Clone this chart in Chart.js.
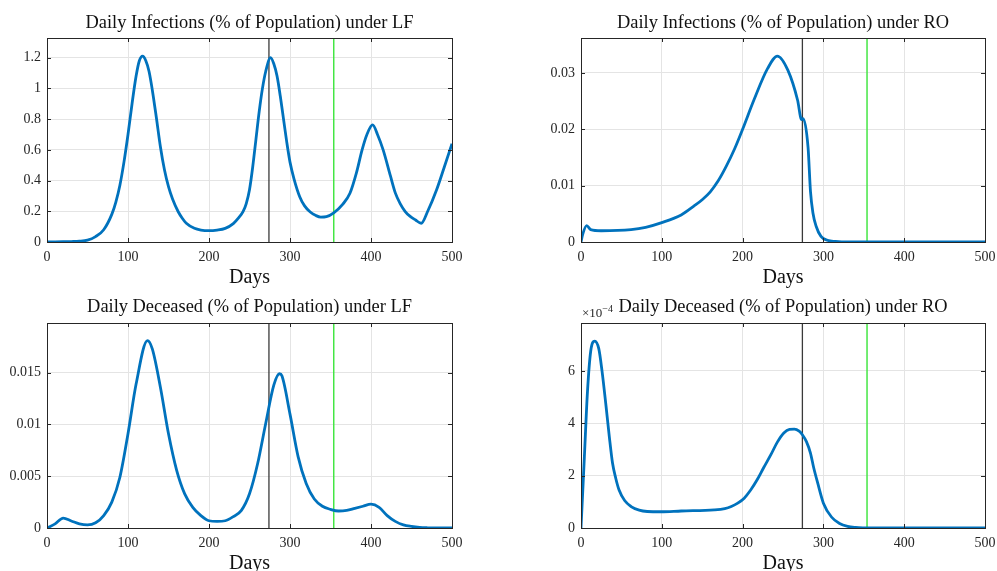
<!DOCTYPE html>
<html>
<head>
<meta charset="utf-8">
<script src="https://cdn.jsdelivr.net/npm/chart.js@4/dist/chart.umd.min.js"></script>
<style>
  html, body { margin: 0; padding: 0; background: #fff; overflow: hidden; }
  body { width: 997px; height: 571px; position: relative; }
  canvas { position: absolute; }
</style>
</head>
<body>
<canvas id="infLF" width="499" height="290" style="left:0;top:0"></canvas>
<canvas id="infRO" width="526" height="290" style="left:520px;top:0"></canvas>
<canvas id="decLF" width="499" height="300" style="left:0;top:290px"></canvas>
<canvas id="decRO" width="526" height="300" style="left:520px;top:290px"></canvas>
<script>
// day markers
const lockdownEnd = 274;
const vaccineDay = 354;

// daily infections, laissez-faire
const infLFDays = [0, 10, 20, 30, 40, 50, 60, 70, 80, 85, 90, 95, 100, 105, 110, 114, 118, 122, 126, 130,
  135, 140, 145, 150, 155, 162, 167, 172, 182, 190, 200, 210, 220, 230, 237, 242, 246, 250, 254, 258,
  262, 266, 270, 276, 280, 284, 288, 292, 296, 300, 305, 312, 318, 325, 332, 338, 345, 354, 365, 374,
  382, 389, 395, 402, 408, 415, 424, 430, 436, 442, 448, 455, 462, 470, 481, 490, 500];
const infLF = [0, 0.001, 0.002, 0.003, 0.005, 0.012, 0.035, 0.08, 0.18, 0.26, 0.37, 0.52, 0.7, 0.9, 1.08, 1.18, 1.21, 1.18, 1.11, 0.99,
  0.81, 0.62, 0.47, 0.36, 0.28, 0.197, 0.155, 0.122, 0.089, 0.078, 0.074, 0.078, 0.089, 0.12, 0.16, 0.197, 0.25, 0.34, 0.49, 0.67,
  0.85, 1.0, 1.11, 1.2, 1.16, 1.08, 0.95, 0.8, 0.65, 0.52, 0.41, 0.295, 0.235, 0.195, 0.172, 0.162, 0.165, 0.19, 0.245, 0.317,
  0.45, 0.6, 0.7, 0.762, 0.7, 0.6, 0.43, 0.32, 0.25, 0.2, 0.168, 0.143, 0.122, 0.2, 0.34, 0.48, 0.64];

// daily infections, optimal policy
const infRODays = [0, 2, 7, 12, 25, 62, 80, 99, 124, 140, 150, 160, 170, 180, 190, 200, 214, 231, 243, 256,
  268, 273, 275, 281, 284, 287, 291, 297, 305, 315, 330, 400, 500];
const infRO = [0, 0.0013, 0.0029, 0.0022, 0.002, 0.0022, 0.0026, 0.0034, 0.0048, 0.0064, 0.0075, 0.0089, 0.0109, 0.0135, 0.0165, 0.02, 0.0252, 0.0308, 0.033, 0.0305,
  0.0252, 0.0217, 0.0219, 0.0168, 0.009, 0.0052, 0.0028, 0.001, 0.0003, 0.0001, 0, 0, 0];

// daily deceased, laissez-faire
const decLFDays = [0, 10, 20, 30, 40, 50, 60, 70, 80, 90, 100, 110, 124, 130, 140, 150, 160, 170, 180, 190,
  200, 210, 220, 230, 240, 250, 260, 270, 280, 287, 290, 300, 310, 320, 330, 340, 350, 360, 370, 380,
  390, 400, 410, 420, 430, 440, 450, 460, 470, 480, 500];
const decLF = [0, 0.0004, 0.00095, 0.00068, 0.0004, 0.0003, 0.0005, 0.0012, 0.0025, 0.0049, 0.0091, 0.0139, 0.0181, 0.0173, 0.0136, 0.0091, 0.0056, 0.0033, 0.002, 0.0012,
  0.0007, 0.00064, 0.0007, 0.0011, 0.0017, 0.0033, 0.0062, 0.0101, 0.0138, 0.0149, 0.0147, 0.011, 0.0069, 0.0043, 0.0028, 0.0021, 0.0018, 0.00164, 0.0017, 0.0019,
  0.0021, 0.0023, 0.002, 0.0012, 0.00064, 0.0003, 0.00015, 0.00006, 0.00002, 0, 0];

// daily deceased, optimal policy (units of 1e-4)
const decRODays = [0, 4, 8, 12, 17, 22, 26, 31, 35, 39, 43, 47, 54, 62, 72, 82, 99, 124, 165, 178,
  186, 194, 202, 210, 218, 226, 235, 243, 251, 258, 264, 270, 274, 279, 284, 288, 293, 300, 310, 320,
  330, 340, 350, 360, 500];
const decRO = [0, 2.6, 5.2, 6.75, 7.14, 6.85, 6.0, 4.65, 3.5, 2.48, 1.9, 1.46, 1.05, 0.82, 0.68, 0.63, 0.62, 0.65, 0.69, 0.74,
  0.82, 0.95, 1.14, 1.45, 1.84, 2.3, 2.8, 3.28, 3.63, 3.77, 3.78, 3.7, 3.56, 3.3, 2.86, 2.3, 1.71, 0.95, 0.42, 0.17,
  0.06, 0.02, 0.005, 0, 0];

const serif = '"Liberation Serif", "Times New Roman", serif';
const axisColor = '#262626';
const titleSize = 18.4;
const daysSize = 20;

const toPoints = (days, vals) => days.map((d, i) => ({x: d, y: vals[i]}));

// MATLAB-like closed box with inward ticks
const boxPlugin = {
  id: 'box',
  afterDraw(chart) {
    const {ctx, chartArea: a, scales} = chart;
    ctx.save();
    ctx.strokeStyle = axisColor;
    ctx.lineWidth = 1;
    ctx.strokeRect(Math.round(a.left) + 0.5, Math.round(a.top) + 0.5,
      Math.round(a.right - a.left), Math.round(a.bottom - a.top));
    ctx.beginPath();
    scales.x.ticks.forEach(t => {
      const px = Math.round(scales.x.getPixelForValue(t.value)) + 0.5;
      ctx.moveTo(px, a.bottom); ctx.lineTo(px, a.bottom - 4);
      ctx.moveTo(px, a.top); ctx.lineTo(px, a.top + 4);
    });
    scales.y.ticks.forEach(t => {
      const py = Math.round(scales.y.getPixelForValue(t.value)) + 0.5;
      ctx.moveTo(a.left, py); ctx.lineTo(a.left + 4, py);
      ctx.moveTo(a.right, py); ctx.lineTo(a.right - 4, py);
    });
    ctx.stroke();
    const exp = chart.options.plugins.box && chart.options.plugins.box.exponent;
    if (exp) {
      ctx.fillStyle = axisColor;
      ctx.textBaseline = 'alphabetic';
      ctx.textAlign = 'left';
      ctx.font = '13px ' + serif;
      const base = a.top - 6;
      ctx.fillText('\u00d710', a.left + 1, base);
      const w = ctx.measureText('\u00d710').width;
      ctx.font = '10px ' + serif;
      ctx.fillText('\u2212' + exp, a.left + 1 + w, base - 5);
    }
    ctx.restore();
  }
};

function renderPanel(id, cfg) {
  const canvas = document.getElementById(id);
  const W = canvas.width, H = canvas.height;
  const markerLine = (day, color, width) => ({
    data: [{x: day, y: 0}, {x: day, y: cfg.yMax}],
    borderColor: color,
    borderWidth: width,
    pointRadius: 0,
    tension: 0,
  });

  new Chart(canvas, {
    type: 'line',
    data: {
      datasets: [
        {
          data: toPoints(cfg.days, cfg.values),
          borderColor: '#0072BD',
          borderWidth: 2.8,
          pointRadius: 0,
          cubicInterpolationMode: 'monotone',
        },
        markerLine(lockdownEnd, '#3a3a3a', 1.3),
        markerLine(vaccineDay, '#44e644', 1.5),
      ]
    },
    options: {
      responsive: false,
      animation: false,
      layout: {padding: {left: 0, right: W - cfg.right, top: 0, bottom: 0}},
      plugins: {
        legend: {display: false},
        tooltip: {enabled: false},
        box: {exponent: cfg.exponent},
      },
      scales: {
        x: {
          type: 'linear',
          min: 0,
          max: 500,
          ticks: {stepSize: 100, color: axisColor, padding: 7, maxRotation: 0,
            font: {family: serif, size: 14}},
          grid: {color: '#e4e4e4', drawTicks: false},
          border: {display: false},
          title: {display: true, text: 'Days', color: '#111',
            font: {family: serif, size: daysSize, lineHeight: 1},
            padding: {top: 0, bottom: cfg.daysFromBottom - daysSize / 2}},
          afterFit(scale) { scale.height = H - cfg.bottom; },
        },
        // top axis only carries the panel title, centred over the plot box
        top: {
          type: 'linear',
          position: 'top',
          min: 0,
          max: 500,
          ticks: {display: false},
          grid: {display: false},
          border: {display: false},
          title: {display: true, text: cfg.title, color: '#111',
            font: {family: serif, size: titleSize, lineHeight: 1},
            padding: {top: cfg.titleMid - titleSize / 2, bottom: 0}},
          afterFit(scale) { scale.height = cfg.top; },
        },
        y: {
          min: 0,
          max: cfg.yMax,
          ticks: {stepSize: cfg.yStep, includeBounds: false, color: axisColor, padding: 6,
            font: {family: serif, size: 14},
            callback: v => String(+v.toFixed(4))},
          grid: {color: '#e4e4e4', drawTicks: false},
          border: {display: false},
          afterFit(scale) { scale.width = cfg.left; },
        }
      }
    },
    plugins: [boxPlugin]
  });
}

renderPanel('infLF', {
  title: 'Daily Infections (% of Population) under LF',
  days: infLFDays, values: infLF, yMax: 1.328, yStep: 0.2,
  left: 47, right: 452, top: 38, bottom: 242, titleMid: 22.7, daysFromBottom: 12.7,
});
renderPanel('infRO', {
  title: 'Daily Infections (% of Population) under RO',
  days: infRODays, values: infRO, yMax: 0.0362, yStep: 0.01,
  left: 61, right: 465, top: 38, bottom: 242, titleMid: 22.7, daysFromBottom: 12.7,
});
renderPanel('decLF', {
  title: 'Daily Deceased (% of Population) under LF',
  days: decLFDays, values: decLF, yMax: 0.0198, yStep: 0.005,
  left: 47, right: 452, top: 33, bottom: 238, titleMid: 17.3, daysFromBottom: 26,
});
renderPanel('decRO', {
  title: 'Daily Deceased (% of Population) under RO',
  days: decRODays, values: decRO, yMax: 7.83, yStep: 2, exponent: '4',
  left: 61, right: 465, top: 33, bottom: 238, titleMid: 17.3, daysFromBottom: 26,
});
</script>
</body>
</html>
